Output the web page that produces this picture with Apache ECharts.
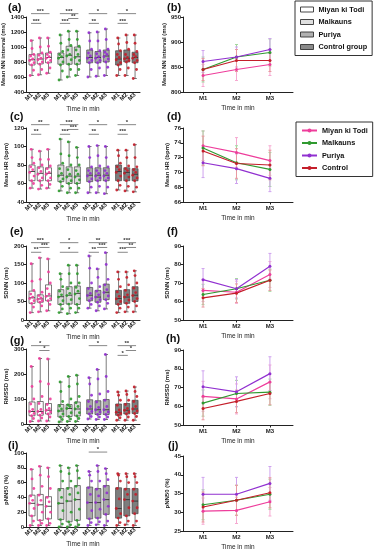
<!DOCTYPE html>
<html><head><meta charset="utf-8">
<script src="https://cdn.jsdelivr.net/npm/echarts@6/dist/echarts.min.js"></script>
<style>html,body{margin:0;padding:0;background:#fff}#c{width:374px;height:550px}</style>
</head><body><div id="c"></div>
<script>
// ---------- categories ----------
const groups = ['Miyan ki Todi', 'Malkauns', 'Puriya', 'Control group'];
const lineNames = ['Miyan ki Todi ', 'Malkauns ', 'Puriya ', 'Control'];
const times = ['M1', 'M2', 'M3'];

// ---------- tick labels ----------
const ticksNN = [400, 600, 800, 1000, 1200, 1400];
const ticksHR = [40, 60, 80, 100, 120];
const ticksSDNN = [0, 50, 100, 150, 200];
const ticksRMSSD = [0, 100, 200, 300];
const ticksPNN = [0, 20, 40, 60, 80, 100];
const ticksNNr = [800, 850, 900, 950];
const ticksHRr = [66, 68, 70, 72, 74, 76];
const ticksSDNNr = [50, 60, 70, 80, 90];
const ticksRMSSDr = [50, 60, 70, 80, 90];
const ticksPNNr = [25, 30, 35, 40, 45];

// ---------- box stats [min,Q1,median,Q3,max], order: MT M1..M3, MK, PU, CO ----------
const boxNN = [[620,760,830,900,1090],[630,775,840,910,1120],[650,790,860,920,1120],
  [560,770,860,920,1160],[600,770,890,1010,1210],[620,770,870,1000,1210],
  [600,790,860,960,1190],[610,790,860,940,1200],[620,800,880,960,1240],
  [620,760,840,950,1120],[620,800,850,960,1160],[580,790,860,930,1160]];
const boxHR = [[55,63,73,80,97],[54,63,71,78,95],[55,63,71,77,97],
  [52,62,69,80,108],[50,60,68,78,105],[50,60,68,78,99],
  [50,62,69,77,100],[50,63,69,77,101],[49,63,69,77,100],
  [53,63,73,80,96],[52,63,72,77,96],[51,63,70,76,102]];
const boxSDNN = [[20,45,60,78,152],[22,48,57,68,168],[25,52,65,95,165],
  [20,42,63,82,125],[17,43,67,90,148],[20,42,72,92,148],
  [32,52,67,88,173],[25,48,62,80,138],[30,55,75,97,182],
  [20,42,58,80,130],[22,45,62,82,130],[22,50,67,90,133]];
const boxRMSSD = [[10,33,50,88,230],[12,35,50,90,262],[12,40,55,82,260],
  [8,28,52,78,168],[10,30,62,78,190],[10,32,60,88,195],
  [20,40,60,97,185],[18,38,57,93,218],[18,38,57,98,278],
  [15,35,47,80,128],[15,40,55,82,132],[15,42,60,95,148]];
const boxPNN = [[2,15,32,43,78],[2,9,30,44,82],[2,11,28,41,80],
  [0,10,32,52,83],[0,7,35,53,80],[0,9,37,56,83],
  [2,11,33,54,75],[3,12,33,52,83],[2,17,37,56,79],
  [2,12,25,53,72],[3,15,37,52,72],[2,18,35,52,72]];

// ---------- individual points (estimated) ----------
const ptsNN = [[620,690,760,790,820,840,880,900,980,1085],[630,700,770,800,830,850,890,920,1000,1120],[650,720,790,820,850,870,900,930,1010,1120],
  [560,680,760,800,850,870,900,940,1050,1160],[600,700,770,830,880,900,960,1020,1100,1210],[620,700,770,820,860,900,960,1010,1100,1210],
  [600,700,790,820,850,880,920,970,1080,1190],[610,720,790,820,850,870,910,950,1080,1200],[620,730,800,840,870,900,930,970,1100,1240],
  [620,700,760,790,830,860,900,950,1040,1120],[620,720,800,820,840,860,900,970,1060,1160],[580,700,790,820,850,870,900,940,1050,1160]];
const ptsHR = [[55,60,63,68,72,75,78,82,88,97],[54,58,63,66,70,73,77,80,86,95],[55,59,63,66,70,72,76,79,86,97],
  [52,57,62,65,68,71,76,82,92,108],[50,55,60,63,67,70,75,80,90,105],[50,55,60,64,67,70,74,80,88,99],
  [50,56,62,65,68,71,74,78,88,100],[50,57,63,66,68,71,74,79,90,101],[49,56,63,66,68,71,74,78,88,100],
  [53,58,63,68,72,75,78,82,90,96],[52,57,63,67,71,74,76,79,88,96],[51,56,63,66,69,72,75,78,88,102]];
const ptsSDNN = [[20,35,45,52,58,62,70,80,105,152],[22,38,48,52,56,60,66,75,110,168],[25,42,52,58,64,70,85,100,130,165],
  [20,30,42,52,62,68,78,90,110,125],[17,32,43,55,66,72,85,100,125,148],[20,32,42,58,70,78,88,100,125,148],
  [32,42,52,58,66,72,85,100,140,173],[25,38,48,55,62,68,78,90,115,138],[30,45,55,65,74,82,95,110,150,182],
  [20,32,42,50,57,64,76,90,110,130],[22,35,45,54,62,68,80,95,115,130],[22,38,50,58,66,74,86,100,120,133]];
const ptsRMSSD = [[10,22,33,42,50,58,80,100,150,230],[12,24,35,44,50,58,82,110,170,262],[12,28,40,48,55,62,78,100,160,260],
  [8,18,28,40,52,60,72,90,130,168],[10,20,30,45,62,70,76,100,150,190],[10,22,32,45,60,70,85,110,160,195],
  [20,30,40,50,60,70,90,115,160,185],[18,28,38,48,57,66,88,120,180,218],[18,28,38,48,57,70,95,130,190,278],
  [15,25,35,42,47,56,75,95,115,128],[15,28,40,48,55,62,78,95,118,132],[15,30,42,52,60,70,90,110,130,148]];
const ptsPNN = [[2,8,15,25,32,36,42,52,65,78],[2,5,9,20,30,36,43,55,70,82],[2,5,11,20,28,34,40,52,68,80],
  [0,4,10,22,32,40,50,62,75,83],[0,3,7,20,35,44,52,62,72,80],[0,3,9,24,37,46,55,66,76,83],
  [2,6,11,22,33,44,53,62,70,75],[3,7,12,24,33,42,51,62,75,83],[2,8,17,28,37,46,55,64,72,79],
  [2,6,12,18,25,38,52,62,70,72],[3,8,15,26,37,44,51,60,68,72],[2,8,18,26,35,44,51,60,68,72]];

// ---------- group means and error (per group, M1..M3) ----------
const meanNN = [[833,845,855],[845,870,879],[861,870,885],[845,863,863]];
const errNN = [[22,22,22],[25,25,27],[22,20,22],[22,22,22]];
const meanHR = [[73.6,72.7,71.6],[73.3,71.3,70.4],[71.3,70.5,69.2],[72.9,71.2,71.0]];
const errHR = [[2.0,2.0,2.0],[2.3,2.3,2.3],[2.0,2.0,1.8],[2.0,2.0,2.0]];
const meanSDNN = [[66,65,74.6],[63.8,66.9,71.5],[71.8,66.9,79],[62,64.5,71.5]];
const errSDNN = [[6,6,7],[5.5,5.5,6],[6,5,7],[5,5,5.5]];
const meanRMSSD = [[65.3,63.9,73],[61.7,66.8,67.5],[70.4,67.7,77.4],[58.8,62.6,66.8]];
const errRMSSD = [[8,8,9],[7,7,7],[8.5,8,9],[6,6,6]];
const meanPNN = [[30.3,30.5,32.8],[32,33.2,34.8],[34.8,34.8,37.7],[31.4,33.2,35.2]];
const errPNN = [[3.5,3.5,3.8],[4,4,4],[4.5,4.5,4.5],[4,4,4]];

// ---------- significance [group, fromTime, toTime, tier, label] ----------
const sigNN = [[0,0,2,0,'***'],[0,0,1,2,'***'],[1,0,2,0,'***'],[1,1,2,1,'**'],[1,0,1,2,'***'],[2,0,2,0,'*'],[2,0,1,2,'**'],[3,0,2,0,'*'],[3,0,1,2,'***']];
const sigHR = [[0,0,2,0,'**'],[0,0,1,2,'**'],[1,0,2,0,'***'],[1,1,2,1,'***'],[1,0,1,2,'***'],[2,0,2,0,'*'],[2,0,1,2,'**'],[3,0,2,0,'*'],[3,0,1,2,'***']];
const sigSDNN = [[0,0,2,0,'***'],[0,1,2,1,'***'],[0,0,1,2,'**'],[1,0,2,0,'*'],[1,0,2,2,'*'],[2,0,2,0,'**'],[2,1,2,1,'***'],[2,0,1,2,'**'],[3,0,2,0,'***'],[3,1,2,1,'**'],[3,0,1,2,'***']];
const sigRMSSD = [[0,0,2,0,'*'],[0,1,2,1,'*'],[2,0,2,0,'*'],[3,0,2,0,'**'],[3,1,2,1,'*'],[3,0,1,2,'*']];
const sigPNN = [[2,0,2,0.5,'*']];

// ---------- styling / layout ----------
const colors = ['#ee3d9b', '#2f9a2f', '#9130d0', '#c41e2a'];
const errColors = ['#f6a9d1', '#a3d79e', '#cfa3ee', '#e99aa0'];
const boxFills = ['#ffffff', '#dcdcdc', '#a9a9a9', '#7d7d7d'];
const FONT = 'Liberation Sans, Arial, sans-serif';
const jit = [-0.22, 0.18, -0.05, 0.25, -0.28, 0.08, -0.15, 0.22, 0.0, -0.1];
const pos = (g, t) => g * 3.5 + t;
const boxPositions = [];
for (let g = 0; g < 4; g++) for (let t = 0; t < 3; t++) boxPositions.push(pos(g, t));

const panels = [
  {box: boxNN, pts: ptsNN, sig: sigNN, yL: ticksNN, mean: meanNN, err: errNN, yR: ticksNNr, name: 'Mean NN interval (ms)', top: 17, h: 75, topR: 17, hR: 75, gapL: 19, gapR: 16, lt: ['(a)', 8, 2, '(b)', 167, 2]},
  {box: boxHR, pts: ptsHR, sig: sigHR, yL: ticksHR, mean: meanHR, err: errHR, yR: ticksHRr, name: 'Mean HR (bpm)', top: 128, h: 74, topR: 128, hR: 74, gapL: 17, gapR: 12, lt: ['(c)', 10, 111, '(d)', 167, 111]},
  {box: boxSDNN, pts: ptsSDNN, sig: sigSDNN, yL: ticksSDNN, mean: meanSDNN, err: errSDNN, yR: ticksSDNNr, name: 'SDNN (ms)', top: 246, h: 74, topR: 246, hR: 74, gapL: 17, gapR: 12, lt: ['(e)', 10, 226, '(f)', 167, 226]},
  {box: boxRMSSD, pts: ptsRMSSD, sig: sigRMSSD, yL: ticksRMSSD, mean: meanRMSSD, err: errRMSSD, yR: ticksRMSSDr, name: 'RMSSD (ms)', top: 349, h: 75, topR: 350, hR: 75, gapL: 17, gapR: 12, lt: ['(g)', 10, 335, '(h)', 166, 333]},
  {box: boxPNN, pts: ptsPNN, sig: sigPNN, yL: ticksPNN, mean: meanPNN, err: errPNN, yR: ticksPNNr, name: 'pNN50 (%)', top: 453, h: 74, topR: 456, hR: 75, gapL: 17, gapR: 12, lt: ['(i)', 8, 440, '(j)', 168, 440]}
];

const grids = [], xAxes = [], yAxes = [], series = [], titles = [];
const axisCol = '#222';

function labelAt(v) {
  let best = 0, d = 1e9;
  boxPositions.forEach((p, k) => { if (Math.abs(p - v) < d) { d = Math.abs(p - v); best = k; } });
  return times[best % 3];
}

panels.forEach((p, i) => {
  const gL = 2 * i, gR = 2 * i + 1;
  grids.push({left: 26, top: p.top, width: 114, height: p.h, outerBoundsMode: 'none', containLabel: false});
  grids.push({left: 183, top: p.topR, width: 110, height: p.hR, outerBoundsMode: 'none', containLabel: false});
  titles.push({text: p.lt[0], left: p.lt[1], top: p.lt[2], padding: 0, textStyle: {fontSize: 11, fontWeight: 'bold', color: '#111', fontFamily: FONT}});
  titles.push({text: p.lt[3], left: p.lt[4], top: p.lt[5], padding: 0, textStyle: {fontSize: 11, fontWeight: 'bold', color: '#111', fontFamily: FONT}});

  const nameStyle = {fontSize: 6, fontWeight: 'bold', color: axisCol, fontFamily: FONT};
  // left axes
  xAxes.push({gridIndex: gL, type: 'value', min: -0.73, max: 13.1,
    axisLine: {show: true, onZero: false, lineStyle: {color: axisCol, width: 1}},
    axisTick: {show: false}, splitLine: {show: false},
    axisLabel: {customValues: boxPositions, formatter: v => labelAt(v), rotate: 45, fontSize: 6, fontWeight: 'bold', color: axisCol, margin: 2, fontFamily: FONT},
    name: 'Time in min', nameLocation: 'middle', nameGap: 14, nameTextStyle: {fontSize: 6.5, color: axisCol, fontFamily: FONT}});
  yAxes.push({gridIndex: gL, type: 'value', min: p.yL[0], max: p.yL[p.yL.length - 1], interval: p.yL[1] - p.yL[0],
    axisLine: {show: true, onZero: false, lineStyle: {color: axisCol, width: 1}},
    axisTick: {show: true, length: 2.5, lineStyle: {color: axisCol}}, splitLine: {show: false},
    axisLabel: {formatter: v => String(v), fontSize: 6, fontWeight: 'bold', color: axisCol, margin: 2, fontFamily: FONT},
    name: p.name, nameLocation: 'middle', nameRotate: 90, nameGap: p.gapL, nameTextStyle: nameStyle});
  // right axes
  xAxes.push({gridIndex: gR, type: 'value', min: -0.6, max: 2.69,
    axisLine: {show: true, onZero: false, lineStyle: {color: axisCol, width: 1}},
    axisTick: {show: true, customValues: [0, 1, 2], length: 2.5, lineStyle: {color: axisCol}}, splitLine: {show: false},
    axisLabel: {customValues: [0, 1, 2], formatter: v => times[Math.round(v)], fontSize: 6, fontWeight: 'bold', color: axisCol, margin: 3, fontFamily: FONT},
    name: 'Time in min', nameLocation: 'middle', nameGap: 13, nameTextStyle: {fontSize: 6.5, color: axisCol, fontFamily: FONT}});
  yAxes.push({gridIndex: gR, type: 'value', min: p.yR[0], max: p.yR[p.yR.length - 1], interval: p.yR[1] - p.yR[0],
    axisLine: {show: true, onZero: false, lineStyle: {color: axisCol, width: 1}},
    axisTick: {show: true, length: 2.5, lineStyle: {color: axisCol}}, splitLine: {show: false},
    axisLabel: {formatter: v => String(v), fontSize: 6, fontWeight: 'bold', color: axisCol, margin: 2, fontFamily: FONT},
    name: p.name, nameLocation: 'middle', nameRotate: 90, nameGap: p.gapR, nameTextStyle: nameStyle});

  // boxes
  const boxData = [];
  for (let g = 0; g < 4; g++) for (let t = 0; t < 3; t++) {
    const b = p.box[g * 3 + t];
    boxData.push([pos(g, t), b[0], b[1], b[2], b[3], b[4], g]);
  }
  series.push({type: 'custom', xAxisIndex: gL, yAxisIndex: gL, z: 2, silent: true, data: boxData,
    renderItem: (params, api) => {
      const x = api.value(0), g = api.value(6);
      const c = k => api.coord([x, api.value(k)]);
      const mn = c(1), q1 = c(2), md = c(3), q3 = c(4), mx = c(5);
      const hw = 3, cw = 1.8, st = {stroke: '#444', lineWidth: 0.7};
      return {type: 'group', children: [
        {type: 'line', shape: {x1: mn[0], y1: mn[1], x2: q1[0], y2: q1[1]}, style: st},
        {type: 'line', shape: {x1: q3[0], y1: q3[1], x2: mx[0], y2: mx[1]}, style: st},
        {type: 'line', shape: {x1: mn[0] - cw, y1: mn[1], x2: mn[0] + cw, y2: mn[1]}, style: st},
        {type: 'line', shape: {x1: mx[0] - cw, y1: mx[1], x2: mx[0] + cw, y2: mx[1]}, style: st},
        {type: 'rect', shape: {x: q3[0] - hw, y: q3[1], width: 2 * hw, height: q1[1] - q3[1]}, style: {fill: boxFills[g], stroke: '#444', lineWidth: 0.7}},
        {type: 'line', shape: {x1: md[0] - hw, y1: md[1], x2: md[0] + hw, y2: md[1]}, style: {stroke: '#333', lineWidth: 0.9}}
      ]};
    }});
  // points
  for (let g = 0; g < 4; g++) {
    const d = [];
    for (let t = 0; t < 3; t++) p.pts[g * 3 + t].forEach((v, k) => d.push([pos(g, t) + jit[k % jit.length], v]));
    series.push({type: 'scatter', name: groups[g], xAxisIndex: gL, yAxisIndex: gL, z: 3, silent: true,
      symbol: 'circle', symbolSize: 2.8, itemStyle: {color: colors[g], opacity: 0.9}, data: d});
  }
  // significance bars
  const yMin = p.yL[0], yMax = p.yL[p.yL.length - 1], rng = yMax - yMin;
  const sigData = p.sig.map(s => [pos(s[0], s[1]), pos(s[0], s[2]), yMax + rng * (0.045 - 0.065 * s[3])]);
  const sigLabels = p.sig.map(s => s[4]);
  series.push({type: 'custom', xAxisIndex: gL, yAxisIndex: gL, z: 4, silent: true, clip: false, data: sigData,
    renderItem: (params, api) => {
      const a = api.coord([api.value(0), api.value(2)]);
      const b = api.coord([api.value(1), api.value(2)]);
      return {type: 'group', children: [
        {type: 'line', shape: {x1: a[0] - 1, y1: a[1], x2: b[0] + 1, y2: b[1]}, style: {stroke: '#555', lineWidth: 0.7}},
        {type: 'text', x: (a[0] + b[0]) / 2, y: a[1] + 0.5, style: {text: sigLabels[params.dataIndex], fill: '#333', font: 'bold 6px ' + FONT, align: 'center', verticalAlign: 'bottom'}}
      ]};
    }});
  // error bars + lines
  for (let g = 0; g < 4; g++) {
    const ed = p.mean[g].map((m, t) => [t, m - p.err[g][t], m + p.err[g][t]]);
    series.push({type: 'custom', xAxisIndex: gR, yAxisIndex: gR, z: 2, silent: true, data: ed,
      renderItem: (params, api) => {
        const lo = api.coord([api.value(0), api.value(1)]);
        const hi = api.coord([api.value(0), api.value(2)]);
        const st = {stroke: errColors[g], lineWidth: 1};
        return {type: 'group', children: [
          {type: 'line', shape: {x1: lo[0], y1: lo[1], x2: hi[0], y2: hi[1]}, style: st},
          {type: 'line', shape: {x1: lo[0] - 1.5, y1: lo[1], x2: lo[0] + 1.5, y2: lo[1]}, style: st},
          {type: 'line', shape: {x1: hi[0] - 1.5, y1: hi[1], x2: hi[0] + 1.5, y2: hi[1]}, style: st}
        ]};
      }});
    series.push({type: 'line', name: lineNames[g], xAxisIndex: gR, yAxisIndex: gR, z: 3, silent: true,
      symbol: 'circle', symbolSize: 3, lineStyle: {color: colors[g], width: 1.2}, itemStyle: {color: colors[g]},
      data: p.mean[g].map((m, t) => [t, m])});
  }
});

const legendText = {fontSize: 7.3, fontWeight: 'bold', color: '#111', fontFamily: FONT};
const option = {
  animation: false,
  textStyle: {fontFamily: FONT},
  title: titles,
  grid: grids, xAxis: xAxes, yAxis: yAxes,
  legend: [
    {orient: 'vertical', left: 295, top: 1, padding: [5, 5, 5, 5], itemGap: 5.5, itemWidth: 13, itemHeight: 5,
      borderColor: '#333', borderWidth: 1, selectedMode: false, textStyle: legendText,
      data: groups.map((n, g) => ({name: n, icon: 'rect', itemStyle: {color: boxFills[g], borderColor: '#333', borderWidth: 1}}))},
    {orient: 'vertical', left: 296, top: 122, padding: [5, 5, 5, 5], itemGap: 5.5, itemWidth: 15, itemHeight: 5,
      borderColor: '#333', borderWidth: 1, selectedMode: false, textStyle: legendText,
      formatter: n => n.trim(), data: lineNames}
  ],
  series: series
};
const chart = echarts.init(document.getElementById('c'), null, {renderer: 'canvas'});
chart.setOption(option);
</script></body></html>
